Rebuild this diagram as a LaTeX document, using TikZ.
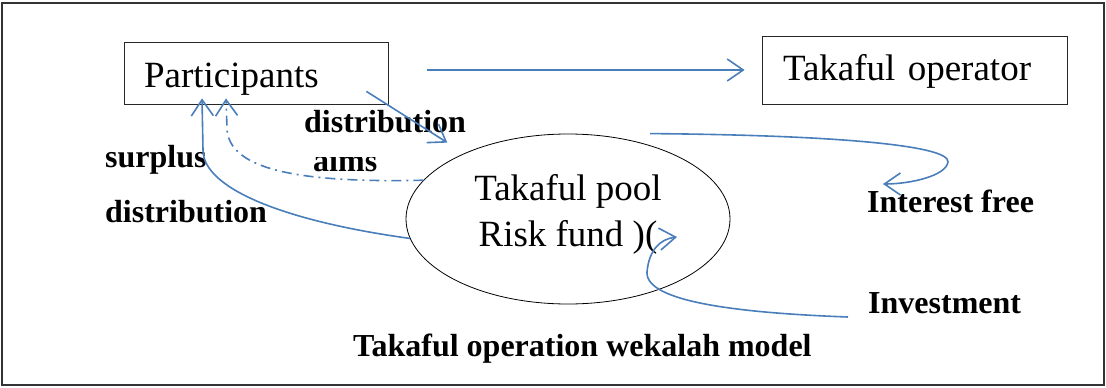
\documentclass[tikz,border=0pt]{standalone}
\usepackage{fontspec}
\setmainfont{Liberation Serif}
\usetikzlibrary{shapes.geometric,arrows.meta}
\definecolor{wblue}{RGB}{74,126,187}

\tikzset{
	entity/.style={draw=black!85, line width=0.8pt, rectangle, align=left, font=\fontsize{37}{44}\selectfont},
	pool/.style={draw=black, line width=0.8pt, ellipse, align=center, inner sep=0pt, minimum width=324pt, minimum height=170pt, font=\fontsize{37}{46}\selectfont},
	note/.style={anchor=base west, inner sep=0pt, font=\fontsize{32}{38}\selectfont\bfseries},
	flow/.style={draw=wblue, line width=1.6pt, -{Straight Barb[length=16pt,width=22pt]}},
}

\begin{document}
\begin{tikzpicture}[x=1pt,y=-1pt]
		\useasboundingbox (0,0) rectangle (1106,388);
		\draw[black!80, line width=1.5pt] (2,3) rectangle (1104,385);

		% Define nodes
		\node[entity, minimum width=264pt, minimum height=62pt, inner xsep=20pt, text width=224pt, text height=28pt, text depth=0pt] (P) at (256,73) {Participants};
		\node[entity, minimum width=305pt, minimum height=68pt, inner xsep=21pt, text width=263pt, text height=20pt, text depth=0pt] (TO) at (914.5,70) {Takaful operator};
		\node[pool, text depth=17pt] (TP) at (568,219) {Takaful pool\\Risk fund )(};

		\node[note] (D1) at (304,132) {distribution};
		\begin{scope}
			\clip (300,157) rectangle (400,190);
			\node[note] (CL) at (313,171) {aims};
		\end{scope}
		\node[note] (SU) at (105,167) {surplus};
		\node[note] (D2) at (105,222) {distribution};
		\node[note] (IF) at (867,212) {Interest free};
		\node[note] (IN) at (868,313) {Investment};
		\node[note] (TT) at (353,356) {Takaful operation wekalah model};

		% Connect the nodes
		\draw[flow, shorten <=39pt, shorten >=17pt] ([yshift=3pt]P.east) -- (TO.west);
		\draw[flow, shorten >=20pt] ([xshift=-22pt,yshift=13pt]P.south east) -- (TP);
		\draw[flow, dash pattern=on 10pt off 5pt on 2pt off 5pt] (TP.165) .. controls (300,183) and (228,170) .. (227,128) -- ([xshift=-30pt,yshift=6pt]P.south);
		\draw[flow] (TP.187) .. controls (290,222) and (203,190) .. (203,150) -- ([xshift=-54pt,yshift=6pt]P.south);
		\draw[flow] ([xshift=82pt]TP.north) .. controls (830,135) and (950,145) .. (948,162) .. controls (946,176) and (910,184) .. ([xshift=16pt,yshift=28pt]IF.base west);
		\draw[flow] ([xshift=-20pt,yshift=-4pt]IN.base west) .. controls (740,313) and (645,302) .. (647,272) .. controls (649,250) and (660,239) .. ([xshift=109pt,yshift=-18pt]TP.center);
	\end{tikzpicture}
\end{document}
